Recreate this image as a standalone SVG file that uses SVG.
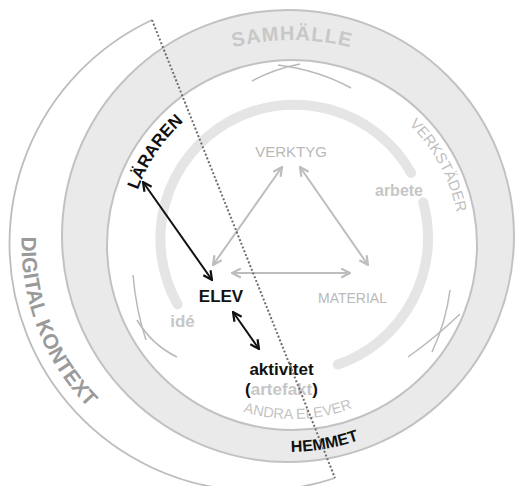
<svg xmlns="http://www.w3.org/2000/svg" width="518" height="486" viewBox="0 0 518 486">
<style>
.lbl{font-family:"Liberation Sans",Arial,sans-serif}
.b{font-weight:bold}
.gray{fill:#b9b9b9}
.lgray{fill:#c6c6c6}
.blk{fill:#111}
.ga{stroke:#bdbdbd;stroke-width:2;fill:none;marker-start:url(#mg);marker-end:url(#mg)}
.ka{stroke:#111;stroke-width:2;fill:none;marker-start:url(#mk);marker-end:url(#mk)}
.hinge{stroke:#b9b9b9;stroke-width:1.5;fill:none}
</style>
<defs>
<marker id="mg" viewBox="0 0 10 10" refX="9" refY="5" markerWidth="11" markerHeight="11" markerUnits="userSpaceOnUse" orient="auto-start-reverse">
<path d="M1,1 L9,5 L1,9" fill="none" stroke="#bdbdbd" stroke-width="2"/>
</marker>
<marker id="mk" viewBox="0 0 10 10" refX="9" refY="5" markerWidth="11" markerHeight="11" markerUnits="userSpaceOnUse" orient="auto-start-reverse">
<path d="M1,1 L9,5 L1,9" fill="none" stroke="#111" stroke-width="2"/>
</marker>
<path id="pSam" d="M84.2,160 A240,240 0 0 1 499.8,160"/>
<path id="pVerk" d="M296.4,77.1 A168,168 0 0 1 435.2,332.8"/>
<path id="pLar" d="M141.7,310.6 A166,166 0 0 1 310.3,80.0"/>
<path id="pHem" d="M122.5,374.8 A216,216 0 0 0 491.0,309.9"/>
<path id="pAndra" d="M144.4,337.2 A174,174 0 0 0 445.6,326.7"/>
<path id="pDig" d="M70.1,101.2 A234,234 0 0 0 215.4,474.5"/>
</defs>
<rect width="518" height="486" fill="#fff"/>

<g id="digital-kontext">
<path d="M152,20 A247,247 0 0 0 335,478" fill="none" stroke="#bdbdbd" stroke-width="1.8"/>
<text class="lbl b" font-size="21" fill="#9a9a9a" text-anchor="middle"><textPath href="#pDig" startOffset="50%">DIGITAL KONTEXT</textPath></text>
</g>

<g id="samhalle">
<circle cx="288" cy="236" r="226" fill="#eaeaea" stroke="#c2c2c2" stroke-width="2"/>
<circle cx="292" cy="245" r="185" fill="#fff" stroke="#c2c2c2" stroke-width="2"/>
<text class="lbl b" font-size="20" letter-spacing="1" fill="#c8c8c8" text-anchor="middle"><textPath href="#pSam" startOffset="50%">SAMHÄLLE</textPath></text>
</g>

<g id="ring">
<path d="M177.6,304.4 A134,134 0 1 1 411.2,173.0" fill="none" stroke="#e5e5e5" stroke-width="10" stroke-linecap="round"/>
<path d="M423.2,202.4 A134,134 0 0 1 337.8,364.6" fill="none" stroke="#e5e5e5" stroke-width="10" stroke-linecap="round"/>
</g>

<g id="hinges">
<path class="hinge" d="M252,81 Q274,69 300,64"/>
<path class="hinge" d="M278,65 Q318,70 351,88"/>
<path class="hinge" d="M133,275 Q136,310 146,340"/>
<path class="hinge" d="M137,320 Q152,345 177,357"/>
<path class="hinge" d="M450,290 Q446,322 432,352"/>
<path class="hinge" d="M408,357 Q435,338 460,314"/>
</g>

<g id="connectors">
<line class="ga" x1="213" y1="265" x2="282" y2="167"/>
<line class="ga" x1="300" y1="167" x2="368" y2="265"/>
<line class="ga" x1="232" y1="273" x2="350" y2="273"/>
<line class="ka" x1="143" y1="182" x2="212" y2="280"/>
<line class="ka" x1="233" y1="312" x2="259" y2="349"/>
</g>

<g id="verkstader"><text class="lbl" font-size="15" fill="#c0c0c0" text-anchor="middle"><textPath href="#pVerk" startOffset="50%">VERKSTÄDER</textPath></text></g>
<g id="lararen"><text class="lbl b blk" font-size="17" text-anchor="middle"><textPath href="#pLar" startOffset="48%">LÄRAREN</textPath></text></g>
<g id="andra-elever"><text class="lbl" font-size="14.5" fill="#c4c4c4" text-anchor="middle"><textPath href="#pAndra" startOffset="50%">ANDRA ELEVER</textPath></text></g>
<g id="hemmet"><text class="lbl b blk" font-size="16" text-anchor="middle"><textPath href="#pHem" startOffset="50%">HEMMET</textPath></text></g>

<g id="verktyg"><text class="lbl gray" font-size="15" x="291" y="157" text-anchor="middle">VERKTYG</text></g>
<g id="material"><text class="lbl gray" font-size="14" x="352.5" y="303" text-anchor="middle">MATERIAL</text></g>
<g id="arbete"><text class="lbl b lgray" font-size="16" x="399" y="196" text-anchor="middle">arbete</text></g>
<g id="ide"><text class="lbl b lgray" font-size="17" x="182.5" y="327" text-anchor="middle">idé</text></g>
<g id="elev"><text class="lbl b blk" font-size="17" x="221" y="302" text-anchor="middle">ELEV</text></g>
<g id="aktivitet">
<text class="lbl b blk" font-size="17" x="281.5" y="375" text-anchor="middle">aktivitet</text>
<text class="lbl b blk" font-size="17" x="281.5" y="395" text-anchor="middle">(<tspan fill="#c6c6c6">artefakt</tspan>)</text>
</g>

<g id="boundary">
<line x1="152" y1="20" x2="335" y2="478" stroke="#6e6e6e" stroke-width="2" stroke-dasharray="2,2"/>
</g>
</svg>
